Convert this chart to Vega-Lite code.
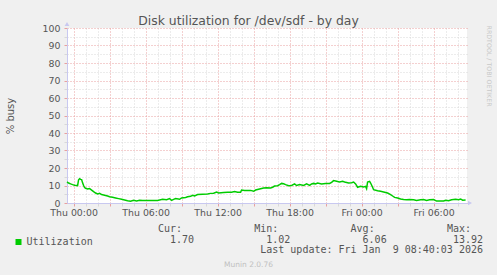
{
  "$schema": "https://vega.github.io/schema/vega-lite/v6.json",
  "width": 400,
  "height": 175,
  "autosize": "none",
  "padding": {"left": 67, "top": 28, "right": 30, "bottom": 72},
  "background": "#f0f0f0",
  "config": {"view": {"fill": "#ffffff", "stroke": null}, "font": "DejaVu Sans"},
  "title": {"text": "Disk utilization for /dev/sdf - by day", "font": "DejaVu Sans", "fontSize": 12.4, "fontWeight": "normal", "color": "#555555", "anchor": "middle", "frame": "group", "dx": -18.5, "dy": 19, "offset": 4, "baseline": "alphabetic"},
  "datasets": {
    "disk": [
      {"time": "2026-01-07T23:27:00Z", "busy": 12.0},
      {"time": "2026-01-07T23:35:00Z", "busy": 11.4},
      {"time": "2026-01-07T23:45:00Z", "busy": 10.9},
      {"time": "2026-01-07T23:55:00Z", "busy": 10.5},
      {"time": "2026-01-08T00:05:00Z", "busy": 10.2},
      {"time": "2026-01-08T00:15:00Z", "busy": 10.0},
      {"time": "2026-01-08T00:20:00Z", "busy": 9.9},
      {"time": "2026-01-08T00:25:00Z", "busy": 13.3},
      {"time": "2026-01-08T00:30:00Z", "busy": 13.92},
      {"time": "2026-01-08T00:35:00Z", "busy": 13.5},
      {"time": "2026-01-08T00:40:00Z", "busy": 13.4},
      {"time": "2026-01-08T00:45:00Z", "busy": 11.5},
      {"time": "2026-01-08T00:50:00Z", "busy": 10.0},
      {"time": "2026-01-08T00:55:00Z", "busy": 8.8},
      {"time": "2026-01-08T01:00:00Z", "busy": 8.4},
      {"time": "2026-01-08T01:10:00Z", "busy": 8.0},
      {"time": "2026-01-08T01:20:00Z", "busy": 8.3},
      {"time": "2026-01-08T01:30:00Z", "busy": 7.4},
      {"time": "2026-01-08T01:40:00Z", "busy": 6.5},
      {"time": "2026-01-08T01:50:00Z", "busy": 5.7},
      {"time": "2026-01-08T02:00:00Z", "busy": 5.2},
      {"time": "2026-01-08T02:10:00Z", "busy": 5.5},
      {"time": "2026-01-08T02:20:00Z", "busy": 4.8},
      {"time": "2026-01-08T02:30:00Z", "busy": 4.6},
      {"time": "2026-01-08T02:40:00Z", "busy": 4.3},
      {"time": "2026-01-08T02:50:00Z", "busy": 4.0},
      {"time": "2026-01-08T03:00:00Z", "busy": 3.6},
      {"time": "2026-01-08T03:15:00Z", "busy": 3.3},
      {"time": "2026-01-08T03:30:00Z", "busy": 2.9},
      {"time": "2026-01-08T03:45:00Z", "busy": 2.5},
      {"time": "2026-01-08T04:00:00Z", "busy": 2.1},
      {"time": "2026-01-08T04:15:00Z", "busy": 1.7},
      {"time": "2026-01-08T04:30:00Z", "busy": 1.3},
      {"time": "2026-01-08T04:45:00Z", "busy": 1.02},
      {"time": "2026-01-08T05:00:00Z", "busy": 1.5},
      {"time": "2026-01-08T05:15:00Z", "busy": 1.2},
      {"time": "2026-01-08T05:30:00Z", "busy": 1.5},
      {"time": "2026-01-08T05:45:00Z", "busy": 1.4},
      {"time": "2026-01-08T06:00:00Z", "busy": 1.5},
      {"time": "2026-01-08T06:30:00Z", "busy": 1.5},
      {"time": "2026-01-08T07:00:00Z", "busy": 1.5},
      {"time": "2026-01-08T07:25:00Z", "busy": 2.1},
      {"time": "2026-01-08T07:45:00Z", "busy": 1.9},
      {"time": "2026-01-08T08:00:00Z", "busy": 2.5},
      {"time": "2026-01-08T08:10:00Z", "busy": 1.5},
      {"time": "2026-01-08T08:20:00Z", "busy": 2.1},
      {"time": "2026-01-08T08:30:00Z", "busy": 2.5},
      {"time": "2026-01-08T08:50:00Z", "busy": 2.1},
      {"time": "2026-01-08T09:00:00Z", "busy": 2.9},
      {"time": "2026-01-08T09:20:00Z", "busy": 3.2},
      {"time": "2026-01-08T09:30:00Z", "busy": 3.6},
      {"time": "2026-01-08T09:45:00Z", "busy": 3.8},
      {"time": "2026-01-08T09:55:00Z", "busy": 4.4},
      {"time": "2026-01-08T10:05:00Z", "busy": 4.0},
      {"time": "2026-01-08T10:20:00Z", "busy": 4.8},
      {"time": "2026-01-08T10:45:00Z", "busy": 5.0},
      {"time": "2026-01-08T11:10:00Z", "busy": 5.1},
      {"time": "2026-01-08T11:25:00Z", "busy": 5.5},
      {"time": "2026-01-08T11:40:00Z", "busy": 5.6},
      {"time": "2026-01-08T11:55:00Z", "busy": 6.3},
      {"time": "2026-01-08T12:05:00Z", "busy": 5.7},
      {"time": "2026-01-08T12:30:00Z", "busy": 6.0},
      {"time": "2026-01-08T12:50:00Z", "busy": 6.1},
      {"time": "2026-01-08T13:10:00Z", "busy": 6.1},
      {"time": "2026-01-08T13:25:00Z", "busy": 6.5},
      {"time": "2026-01-08T13:40:00Z", "busy": 6.1},
      {"time": "2026-01-08T13:55:00Z", "busy": 6.1},
      {"time": "2026-01-08T14:00:00Z", "busy": 7.4},
      {"time": "2026-01-08T14:15:00Z", "busy": 7.2},
      {"time": "2026-01-08T14:45:00Z", "busy": 7.2},
      {"time": "2026-01-08T15:00:00Z", "busy": 6.7},
      {"time": "2026-01-08T15:10:00Z", "busy": 7.4},
      {"time": "2026-01-08T15:30:00Z", "busy": 8.0},
      {"time": "2026-01-08T15:50:00Z", "busy": 8.6},
      {"time": "2026-01-08T16:05:00Z", "busy": 8.7},
      {"time": "2026-01-08T16:25:00Z", "busy": 8.6},
      {"time": "2026-01-08T16:35:00Z", "busy": 9.0},
      {"time": "2026-01-08T16:45:00Z", "busy": 9.7},
      {"time": "2026-01-08T17:00:00Z", "busy": 9.9},
      {"time": "2026-01-08T17:10:00Z", "busy": 10.5},
      {"time": "2026-01-08T17:20:00Z", "busy": 11.2},
      {"time": "2026-01-08T17:30:00Z", "busy": 11.0},
      {"time": "2026-01-08T17:40:00Z", "busy": 10.5},
      {"time": "2026-01-08T17:55:00Z", "busy": 9.9},
      {"time": "2026-01-08T18:10:00Z", "busy": 10.0},
      {"time": "2026-01-08T18:25:00Z", "busy": 10.9},
      {"time": "2026-01-08T18:35:00Z", "busy": 10.0},
      {"time": "2026-01-08T18:50:00Z", "busy": 10.5},
      {"time": "2026-01-08T19:10:00Z", "busy": 10.0},
      {"time": "2026-01-08T19:25:00Z", "busy": 10.9},
      {"time": "2026-01-08T19:40:00Z", "busy": 10.1},
      {"time": "2026-01-08T19:50:00Z", "busy": 10.9},
      {"time": "2026-01-08T20:00:00Z", "busy": 11.2},
      {"time": "2026-01-08T20:10:00Z", "busy": 10.9},
      {"time": "2026-01-08T20:20:00Z", "busy": 11.4},
      {"time": "2026-01-08T20:40:00Z", "busy": 10.9},
      {"time": "2026-01-08T21:00:00Z", "busy": 11.2},
      {"time": "2026-01-08T21:20:00Z", "busy": 11.2},
      {"time": "2026-01-08T21:30:00Z", "busy": 11.8},
      {"time": "2026-01-08T21:40:00Z", "busy": 12.8},
      {"time": "2026-01-08T21:55:00Z", "busy": 12.4},
      {"time": "2026-01-08T22:10:00Z", "busy": 12.0},
      {"time": "2026-01-08T22:25:00Z", "busy": 12.4},
      {"time": "2026-01-08T22:35:00Z", "busy": 12.0},
      {"time": "2026-01-08T22:55:00Z", "busy": 11.4},
      {"time": "2026-01-08T23:10:00Z", "busy": 11.6},
      {"time": "2026-01-08T23:20:00Z", "busy": 12.0},
      {"time": "2026-01-08T23:30:00Z", "busy": 10.9},
      {"time": "2026-01-08T23:40:00Z", "busy": 9.0},
      {"time": "2026-01-08T23:55:00Z", "busy": 9.5},
      {"time": "2026-01-09T00:10:00Z", "busy": 9.2},
      {"time": "2026-01-09T00:20:00Z", "busy": 9.5},
      {"time": "2026-01-09T00:25:00Z", "busy": 8.2},
      {"time": "2026-01-09T00:30:00Z", "busy": 12.0},
      {"time": "2026-01-09T00:40:00Z", "busy": 12.4},
      {"time": "2026-01-09T00:45:00Z", "busy": 11.4},
      {"time": "2026-01-09T00:55:00Z", "busy": 9.0},
      {"time": "2026-01-09T01:00:00Z", "busy": 7.6},
      {"time": "2026-01-09T01:20:00Z", "busy": 7.0},
      {"time": "2026-01-09T01:35:00Z", "busy": 6.7},
      {"time": "2026-01-09T01:50:00Z", "busy": 6.3},
      {"time": "2026-01-09T02:10:00Z", "busy": 5.7},
      {"time": "2026-01-09T02:25:00Z", "busy": 4.8},
      {"time": "2026-01-09T02:35:00Z", "busy": 4.0},
      {"time": "2026-01-09T02:45:00Z", "busy": 3.2},
      {"time": "2026-01-09T03:00:00Z", "busy": 2.9},
      {"time": "2026-01-09T03:15:00Z", "busy": 2.3},
      {"time": "2026-01-09T03:30:00Z", "busy": 2.0},
      {"time": "2026-01-09T03:45:00Z", "busy": 1.8},
      {"time": "2026-01-09T04:00:00Z", "busy": 2.0},
      {"time": "2026-01-09T04:20:00Z", "busy": 1.8},
      {"time": "2026-01-09T04:35:00Z", "busy": 1.5},
      {"time": "2026-01-09T04:55:00Z", "busy": 1.8},
      {"time": "2026-01-09T05:10:00Z", "busy": 2.0},
      {"time": "2026-01-09T05:25:00Z", "busy": 1.5},
      {"time": "2026-01-09T05:40:00Z", "busy": 1.8},
      {"time": "2026-01-09T06:00:00Z", "busy": 2.0},
      {"time": "2026-01-09T06:15:00Z", "busy": 1.1},
      {"time": "2026-01-09T06:30:00Z", "busy": 1.1},
      {"time": "2026-01-09T06:50:00Z", "busy": 1.1},
      {"time": "2026-01-09T07:00:00Z", "busy": 1.5},
      {"time": "2026-01-09T07:15:00Z", "busy": 1.3},
      {"time": "2026-01-09T07:30:00Z", "busy": 1.9},
      {"time": "2026-01-09T07:50:00Z", "busy": 2.1},
      {"time": "2026-01-09T08:05:00Z", "busy": 1.9},
      {"time": "2026-01-09T08:15:00Z", "busy": 2.3},
      {"time": "2026-01-09T08:25:00Z", "busy": 1.6},
      {"time": "2026-01-09T08:40:00Z", "busy": 1.7}
    ],
    "stats": [
      {"stat": "Cur", "value": 1.70},
      {"stat": "Min", "value": 1.02},
      {"stat": "Avg", "value": 6.06},
      {"stat": "Max", "value": 13.92}
    ]
  },
  "layer": [
    {
      "layer": [
        {
          "data": {"name": "disk"},
          "mark": {"type": "line", "strokeWidth": 1.5, "interpolate": "linear"},
          "encoding": {
            "x": {
              "field": "time", "type": "temporal",
              "scale": {"type": "utc", "domain": [
                {"year": 2026, "month": 1, "date": 7, "hours": 23, "minutes": 27, "utc": true},
                {"year": 2026, "month": 1, "date": 9, "hours": 8, "minutes": 47, "utc": true}
              ]},
              "axis": {
                "orient": "bottom",
                "values": [
                  {"year": 2026, "month": 1, "date": 8, "hours": 0, "utc": true},
                  {"year": 2026, "month": 1, "date": 8, "hours": 1, "utc": true},
                  {"year": 2026, "month": 1, "date": 8, "hours": 2, "utc": true},
                  {"year": 2026, "month": 1, "date": 8, "hours": 3, "utc": true},
                  {"year": 2026, "month": 1, "date": 8, "hours": 4, "utc": true},
                  {"year": 2026, "month": 1, "date": 8, "hours": 5, "utc": true},
                  {"year": 2026, "month": 1, "date": 8, "hours": 6, "utc": true},
                  {"year": 2026, "month": 1, "date": 8, "hours": 7, "utc": true},
                  {"year": 2026, "month": 1, "date": 8, "hours": 8, "utc": true},
                  {"year": 2026, "month": 1, "date": 8, "hours": 9, "utc": true},
                  {"year": 2026, "month": 1, "date": 8, "hours": 10, "utc": true},
                  {"year": 2026, "month": 1, "date": 8, "hours": 11, "utc": true},
                  {"year": 2026, "month": 1, "date": 8, "hours": 12, "utc": true},
                  {"year": 2026, "month": 1, "date": 8, "hours": 13, "utc": true},
                  {"year": 2026, "month": 1, "date": 8, "hours": 14, "utc": true},
                  {"year": 2026, "month": 1, "date": 8, "hours": 15, "utc": true},
                  {"year": 2026, "month": 1, "date": 8, "hours": 16, "utc": true},
                  {"year": 2026, "month": 1, "date": 8, "hours": 17, "utc": true},
                  {"year": 2026, "month": 1, "date": 8, "hours": 18, "utc": true},
                  {"year": 2026, "month": 1, "date": 8, "hours": 19, "utc": true},
                  {"year": 2026, "month": 1, "date": 8, "hours": 20, "utc": true},
                  {"year": 2026, "month": 1, "date": 8, "hours": 21, "utc": true},
                  {"year": 2026, "month": 1, "date": 8, "hours": 22, "utc": true},
                  {"year": 2026, "month": 1, "date": 8, "hours": 23, "utc": true},
                  {"year": 2026, "month": 1, "date": 9, "hours": 0, "utc": true},
                  {"year": 2026, "month": 1, "date": 9, "hours": 1, "utc": true},
                  {"year": 2026, "month": 1, "date": 9, "hours": 2, "utc": true},
                  {"year": 2026, "month": 1, "date": 9, "hours": 3, "utc": true},
                  {"year": 2026, "month": 1, "date": 9, "hours": 4, "utc": true},
                  {"year": 2026, "month": 1, "date": 9, "hours": 5, "utc": true},
                  {"year": 2026, "month": 1, "date": 9, "hours": 6, "utc": true},
                  {"year": 2026, "month": 1, "date": 9, "hours": 7, "utc": true},
                  {"year": 2026, "month": 1, "date": 9, "hours": 8, "utc": true}
                ],
                "labelExpr": "utchours(datum.value) % 6 === 0 ? utcFormat(datum.value, '%a %H:%M') : ''",
                "labelOverlap": false, "labelFlush": false,
                "labelFont": "DejaVu Sans", "labelFontSize": 9.4, "labelColor": "#555555", "labelPadding": 2,
                "ticks": true, "tickSize": 3,
                "tickColor": {"condition": {"test": "utchours(datum.value) % 3 === 0", "value": "#e8a0a0"}, "value": "#d8d8d8"},
                "grid": true,
                "gridColor": {"condition": {"test": "utchours(datum.value) % 3 === 0", "value": "#e8a0a0"}, "value": "#d8d8d8"},
                "gridDash": [1, 2], "gridWidth": 1,
                "domainColor": "#c8c8f0", "domainWidth": 1,
                "title": "Munin 2.0.76", "titleFont": "DejaVu Sans", "titleFontSize": 7.5, "titleFontWeight": "normal",
                "titleColor": "#c0c0c0", "titleX": 181, "titleY": 63.5, "titleAlign": "center", "titleBaseline": "alphabetic"
              }
            },
            "y": {
              "field": "busy", "type": "quantitative",
              "scale": {"domain": [0, 100], "nice": false, "zero": true},
              "axis": {
                "values": [0, 5, 10, 15, 20, 25, 30, 35, 40, 45, 50, 55, 60, 65, 70, 75, 80, 85, 90, 95, 100],
                "labelExpr": "datum.value % 10 === 0 ? datum.label : ''",
                "labelOverlap": false, "labelFont": "DejaVu Sans", "labelFontSize": 9.4, "labelColor": "#555555", "labelPadding": 4,
                "tickSize": 3,
                "tickColor": {"condition": {"test": "datum.value % 10 === 0", "value": "#e8a0a0"}, "value": "#d8d8d8"},
                "grid": true,
                "gridColor": {"condition": {"test": "datum.value % 10 === 0", "value": "#e8a0a0"}, "value": "#d8d8d8"},
                "gridDash": [1, 2], "gridWidth": 1,
                "domainColor": "#c8c8f0", "domainWidth": 1,
                "title": "% busy", "titleFont": "DejaVu Sans", "titleFontSize": 10, "titleFontWeight": "normal", "titleColor": "#555555",
                "titleAngle": 270, "titleX": -57, "titleY": 87.5, "titleAlign": "center", "titleBaseline": "middle"
              }
            },
            "color": {
              "datum": "Utilization", "type": "nominal",
              "scale": {"range": ["#00cc00"]},
              "legend": {
                "orient": "none", "legendX": -53.5, "legendY": 209, "title": null, "padding": 0,
                "symbolType": "square", "symbolSize": 36, "symbolFillColor": "#00cc00", "symbolStrokeColor": "#00cc00", "symbolStrokeWidth": 0,
                "labelFont": "DejaVu Sans Mono", "labelFontSize": 10, "labelColor": "#555555", "labelOffset": 3
              }
            }
          }
        },
        {
          "data": {"values": [{}]},
          "mark": {"type": "point", "shape": "triangle-up", "filled": true, "size": 22, "color": "#c8c8f0", "opacity": 1, "yOffset": -4},
          "encoding": {
            "x": {"datum": {"year": 2026, "month": 1, "date": 7, "hours": 23, "minutes": 27, "utc": true}, "type": "temporal", "axis": null},
            "y": {"datum": 100, "type": "quantitative", "axis": {
              "orient": "right", "labels": false, "ticks": false, "domain": false, "grid": false,
              "title": "RRDTOOL / TOBI OETIKER", "titleFont": "DejaVu Sans", "titleFontSize": 6.3, "titleFontWeight": "normal",
              "titleColor": "#c8c8c8", "titleAngle": 90, "titleX": 21, "titleY": -3, "titleAlign": "left", "titleBaseline": "middle"
            }}
          }
        },
        {
          "data": {"values": [{}]},
          "mark": {"type": "point", "shape": "triangle-right", "filled": true, "size": 22, "color": "#c8c8f0", "opacity": 1, "xOffset": 3},
          "encoding": {
            "x": {"datum": {"year": 2026, "month": 1, "date": 9, "hours": 8, "minutes": 47, "utc": true}, "type": "temporal", "axis": null},
            "y": {"datum": 0, "type": "quantitative", "axis": null}
          }
        }
      ],
      "resolve": {"axis": {"x": "independent", "y": "independent"}}
    },
    {
      "data": {"name": "stats"},
      "layer": [
        {
          "transform": [{"calculate": "datum.stat + ':'", "as": "head"}],
          "mark": {"type": "text", "align": "right", "baseline": "alphabetic", "font": "DejaVu Sans Mono", "fontSize": 10, "color": "#555555", "dx": -12},
          "encoding": {
            "x": {"field": "stat", "type": "nominal", "scale": {"type": "point", "domain": ["Cur", "Min", "Avg", "Max"], "range": [127, 416], "padding": 0}, "axis": null},
            "y": {"datum": "head", "type": "nominal", "scale": {"type": "point", "domain": ["head", "value", "update"], "range": [203.7, 225.3], "padding": 0}, "axis": null},
            "text": {"field": "head"}
          }
        },
        {
          "mark": {"type": "text", "align": "right", "baseline": "alphabetic", "font": "DejaVu Sans Mono", "fontSize": 10, "color": "#555555"},
          "encoding": {
            "x": {"field": "stat", "type": "nominal", "axis": null},
            "y": {"datum": "value", "type": "nominal", "axis": null},
            "text": {"field": "value", "format": ".2f"}
          }
        },
        {
          "data": {"values": [{"note": "Last update: Fri Jan \u00a09 08:40:03 2026"}]},
          "mark": {"type": "text", "align": "right", "baseline": "alphabetic", "font": "DejaVu Sans Mono", "fontSize": 10, "color": "#555555"},
          "encoding": {
            "x": {"datum": "Max", "type": "nominal", "axis": null},
            "y": {"datum": "update", "type": "nominal", "axis": null},
            "text": {"field": "note"}
          }
        }
      ]
    }
  ],
  "resolve": {"scale": {"x": "independent", "y": "independent", "color": "independent"}}
}
